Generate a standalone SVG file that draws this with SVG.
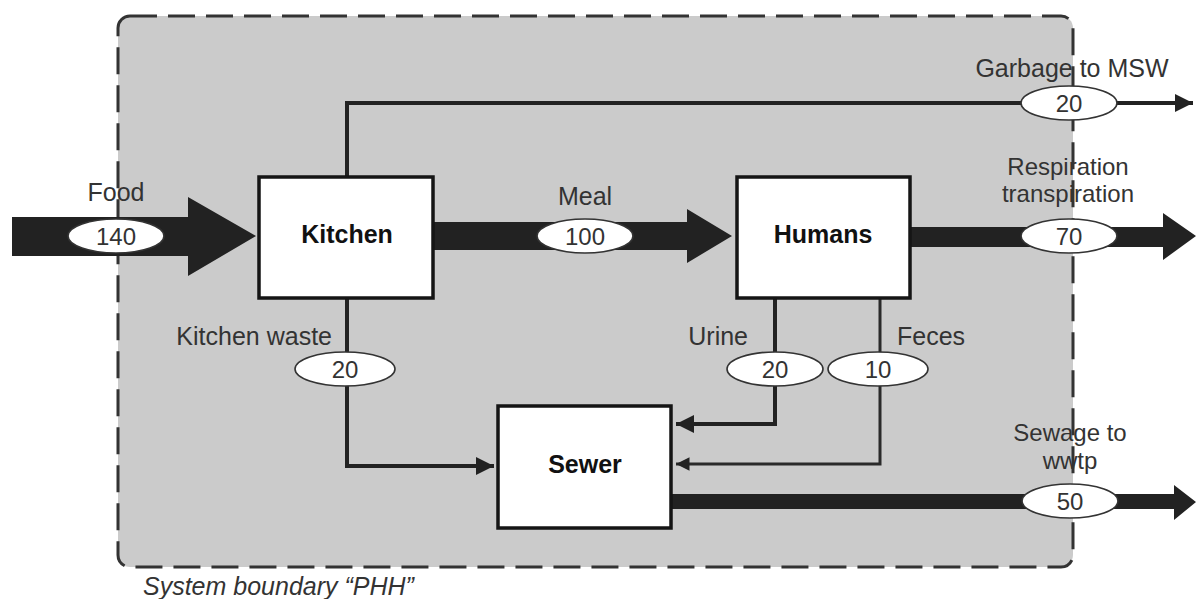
<svg xmlns="http://www.w3.org/2000/svg" width="1196" height="599" viewBox="0 0 1196 599">
<style>
text{font-family:"Liberation Sans",Arial,sans-serif;fill:#333;font-size:25px}
.b{font-weight:bold;fill:#111;text-anchor:middle}
.c{text-anchor:middle}
.t{text-anchor:middle;font-size:24px}
.n{font-size:24px;text-anchor:middle;fill:#333}
.box{fill:#fff;stroke:#151515;stroke-width:3.5}
.ell{fill:#fff;stroke:#333;stroke-width:1.6}
.ln{fill:none;stroke:#222;stroke-width:4}
.ln3{fill:none;stroke:#2a2a2a;stroke-width:3}
.fat{fill:#222}
</style>
<defs>
<marker id="ah" viewBox="0 0 10 10" refX="10" refY="5" markerWidth="5" markerHeight="4.5" markerUnits="strokeWidth" orient="auto">
<path d="M0,0 L10,5 L0,10 z" fill="#222"/>
</marker>
</defs>
<rect id="boundary" x="118" y="16" width="955" height="551" rx="12" fill="#cbcbcb" stroke="#333" stroke-width="3" stroke-dasharray="27 11"/>
<text x="143" y="595" font-style="italic">System boundary “PHH”</text>
<g id="connectors">
<path class="fat" d="M12,217 H188 V197 L256,236 L188,276 V256 H12 z"/>
<path class="fat" d="M433,222 H687 V209 L732,236 L687,263 V250 H433 z"/>
<path class="fat" d="M910,227 H1163 V213 L1196,236 L1163,260 V247 H910 z"/>
<path class="fat" d="M671,494 H1174 V485 L1196,502 L1174,520 V509 H671 z"/>
<path class="ln" d="M347,177 V103 H1193" marker-end="url(#ah)"/>
<path class="ln" d="M347,298 V466 H494" marker-end="url(#ah)"/>
<path class="ln" d="M775,298 V424 H676" marker-end="url(#ah)"/>
<path class="ln3" d="M880,298 V464 H676" marker-end="url(#ah)"/>
</g>
<g id="kitchen"><rect class="box" x="259" y="177" width="174" height="121"/><text class="b" x="347" y="243">Kitchen</text></g>
<g id="humans"><rect class="box" x="737" y="177" width="173" height="121"/><text class="b" x="823" y="243">Humans</text></g>
<g id="sewer"><rect class="box" x="498" y="406" width="173" height="122"/><text class="b" x="585" y="473">Sewer</text></g>
<g id="flow-food"><text class="c" x="116" y="201">Food</text><ellipse class="ell" cx="116" cy="236" rx="48" ry="17"/><text class="n" x="116" y="245">140</text></g>
<g id="flow-meal"><text class="c" x="585" y="205">Meal</text><ellipse class="ell" cx="585" cy="236" rx="48" ry="17"/><text class="n" x="585" y="245">100</text></g>
<g id="flow-garbage"><text class="c" x="1072" y="77">Garbage to MSW</text><ellipse class="ell" cx="1069" cy="103" rx="48" ry="17"/><text class="n" x="1069" y="112">20</text></g>
<g id="flow-resp"><text class="t" x="1068" y="175">Respiration</text><text class="t" x="1068" y="202">transpiration</text><ellipse class="ell" cx="1069" cy="236" rx="48" ry="17"/><text class="n" x="1069" y="245">70</text></g>
<g id="flow-kwaste"><text x="332" y="345" text-anchor="end">Kitchen waste</text><ellipse class="ell" cx="345" cy="369" rx="50" ry="17"/><text class="n" x="345" y="378">20</text></g>
<g id="flow-urine"><text x="748" y="345" text-anchor="end">Urine</text><ellipse class="ell" cx="775" cy="369" rx="48" ry="17"/><text class="n" x="775" y="378">20</text></g>
<g id="flow-feces"><text x="897" y="345">Feces</text><ellipse class="ell" cx="878" cy="369" rx="50" ry="17"/><text class="n" x="878" y="378">10</text></g>
<g id="flow-sewage"><text class="t" x="1070" y="441">Sewage to</text><text class="t" x="1070" y="469">wwtp</text><ellipse class="ell" cx="1070" cy="501" rx="48" ry="17"/><text class="n" x="1070" y="510">50</text></g>
</svg>
